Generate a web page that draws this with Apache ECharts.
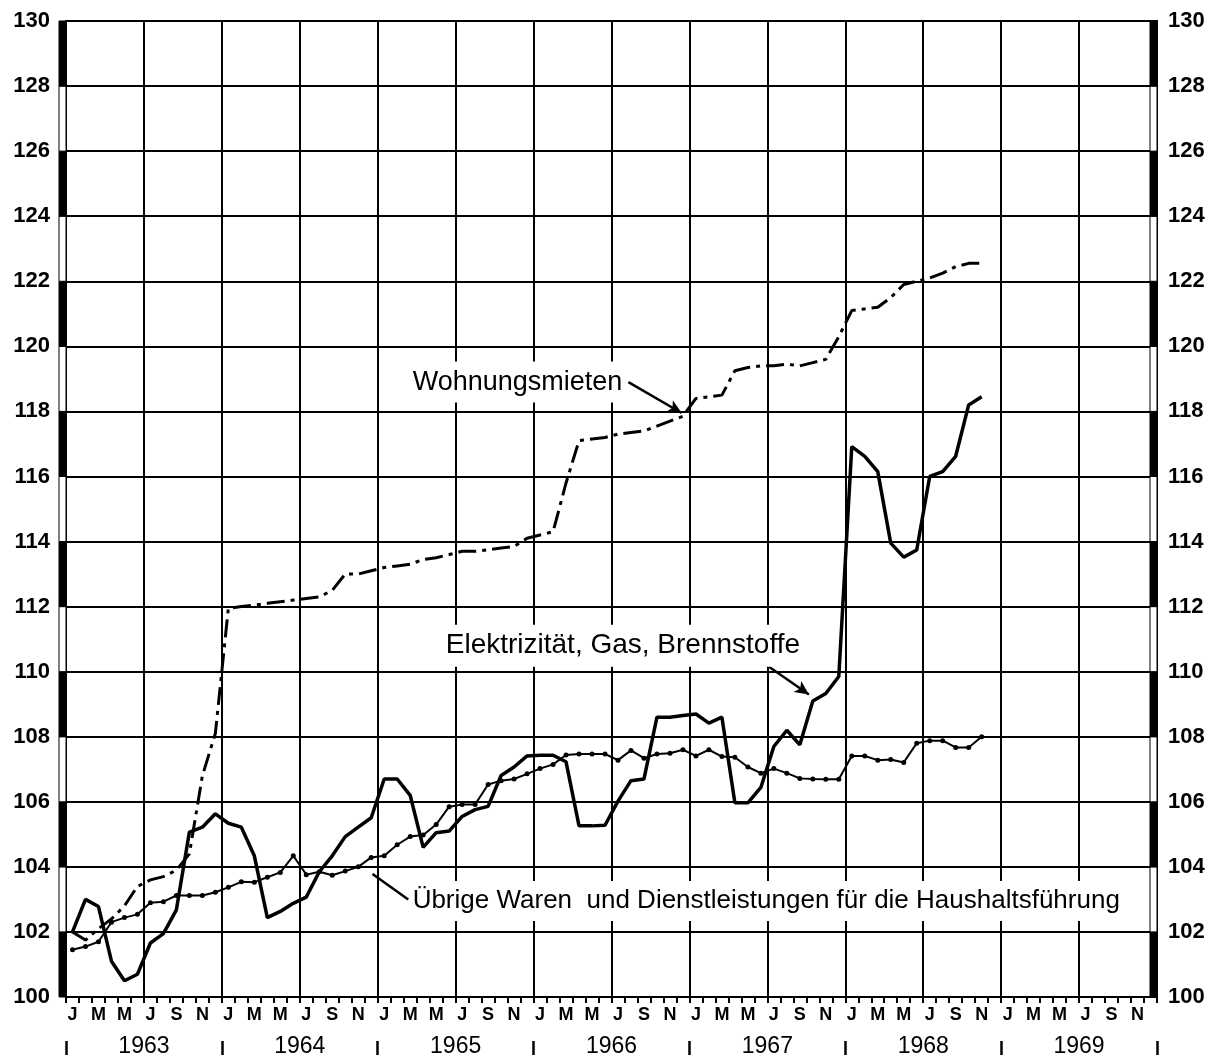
<!DOCTYPE html>
<html>
<head>
<meta charset="utf-8">
<script src="https://cdn.jsdelivr.net/npm/echarts@6/dist/echarts.min.js"></script>
<style>
html,body{margin:0;padding:0;background:#fff;}
#c{width:1216px;height:1058px;}
</style>
</head>
<body>
<div id="c"></div>
<script>
// ---- data (monthly index values, Jan 1963 = index 0) ----
const years = ['1963','1964','1965','1966','1967','1968','1969'];
const monthLetters = ['J','F','M','A','M','J','J','A','S','O','N','D'];

const wohnungsmieten = [
  102.0,101.75,102.1,102.4,102.8,103.4,103.6,103.7,103.9,104.4,106.8,108.1,
  111.95,112.0,112.05,112.1,112.15,112.2,112.25,112.3,112.5,113.0,113.0,113.1,
  113.2,113.25,113.3,113.45,113.5,113.6,113.7,113.7,113.75,113.8,113.85,114.1,
  114.2,114.3,115.8,117.1,117.15,117.2,117.3,117.35,117.4,117.55,117.7,117.85,
  118.4,118.45,118.5,119.25,119.35,119.4,119.4,119.45,119.4,119.5,119.6,120.3,
  121.1,121.15,121.2,121.5,121.9,122.0,122.1,122.25,122.45,122.55,122.55
];
const elektrizitaet = [
  102.0,103.0,102.78,101.1,100.5,100.7,101.66,101.95,102.68,105.07,105.22,105.63,
  105.34,105.22,104.34,102.44,102.63,102.88,103.07,103.85,104.34,104.93,105.22,105.51,
  106.7,106.7,106.2,104.6,105.05,105.1,105.55,105.76,105.86,106.81,107.07,107.41,
  107.43,107.43,107.23,105.26,105.26,105.28,106.02,106.65,106.7,108.6,108.6,108.65,
  108.7,108.42,108.6,105.97,105.97,106.44,107.7,108.2,107.75,109.1,109.33,109.85,
  116.92,116.62,116.15,113.95,113.52,113.74,116.0,116.15,116.62,118.2,118.45
];
const uebrige = [
  101.45,101.55,101.7,102.3,102.44,102.54,102.9,102.93,103.12,103.12,103.12,103.22,
  103.37,103.54,103.53,103.68,103.83,104.34,103.76,103.85,103.74,103.87,104.0,104.29,
  104.34,104.68,104.93,104.98,105.3,105.85,105.92,105.92,106.53,106.65,106.7,106.86,
  107.02,107.15,107.44,107.47,107.47,107.47,107.28,107.58,107.34,107.47,107.49,107.6,
  107.41,107.6,107.39,107.37,107.07,106.88,107.02,106.88,106.72,106.7,106.69,106.69,
  107.41,107.41,107.28,107.3,107.21,107.8,107.88,107.88,107.67,107.67,108.0
];

// ---- build ----
const monthKeys = [];
years.forEach(y => monthLetters.forEach((m, i) => monthKeys.push(y + '-' + i)));
const nMonths = monthKeys.length;
const toXY = arr => arr.map((v, i) => [i + 0.5, v]);

const edgeSegments = [];
for (let k = 0; k < 15; k++) edgeSegments.push([100 + 2 * k, 102 + 2 * k, k % 2 === 0 ? 1 : 0]);

const FONT = '"Liberation Sans", Arial, sans-serif';
const NARROW = '"Liberation Sans Narrow", "Liberation Sans", Arial, sans-serif';

const chart = echarts.init(document.getElementById('c'), null, {renderer: 'canvas'});
chart.setOption({
  animation: false,
  backgroundColor: '#fff',
  grid: {left: 66, right: 59, top: 21, bottom: 59, show: true, borderColor: '#000', borderWidth: 2, backgroundColor: 'transparent'},
  xAxis: [
    {
      type: 'category', data: monthKeys, position: 'bottom', boundaryGap: true,
      axisLine: {show: true, lineStyle: {color: '#000', width: 2}},
      axisTick: {show: true, interval: 0, length: 6, lineStyle: {color: '#000', width: 2}},
      axisLabel: {
        interval: (i) => i % 2 === 0,
        formatter: (v) => monthLetters[+v.split('-')[1]],
        color: '#000', fontSize: 18, fontWeight: 'bold', fontFamily: NARROW, margin: 9
      },
      splitLine: {show: false}
    },
    {
      type: 'value', min: 0, max: nMonths, interval: 6, position: 'top',
      axisLine: {show: false}, axisTick: {show: false}, axisLabel: {show: false},
      splitLine: {show: true, lineStyle: {color: '#000', width: 2}}
    },
    {
      type: 'category', data: years, position: 'bottom', offset: 58, boundaryGap: true,
      axisLine: {show: false},
      axisTick: {show: true, inside: true, length: 14, lineStyle: {color: '#000', width: 2.5}},
      axisLabel: {inside: true, margin: -3, color: '#000', fontSize: 23, fontFamily: FONT},
      splitLine: {show: false}
    }
  ],
  yAxis: [
    {
      type: 'value', min: 100, max: 130, interval: 2, position: 'left',
      axisLine: {show: false}, axisTick: {show: false},
      axisLabel: {color: '#000', fontSize: 22, fontWeight: 'bold', fontFamily: FONT, margin: 16},
      splitLine: {show: true, lineStyle: {color: '#000', width: 2}}
    },
    {
      type: 'value', min: 100, max: 130, interval: 2, position: 'right',
      axisLine: {show: false}, axisTick: {show: false},
      axisLabel: {color: '#000', fontSize: 22, fontWeight: 'bold', fontFamily: FONT, margin: 11},
      splitLine: {show: false}
    }
  ],
  series: [
    {
      name: 'Wohnungsmieten', type: 'line', xAxisIndex: 1, yAxisIndex: 0,
      data: toXY(wohnungsmieten), showSymbol: false, symbol: 'none', z: 4,
      lineStyle: {color: '#000', width: 3, type: [18, 6, 4, 6]},
      markLine: {
        silent: true, symbol: ['none', 'arrow'], symbolSize: [10, 14],
        lineStyle: {color: '#000', width: 2.5, type: 'solid'}, label: {show: false},
        data: [[{coord: [43.3, 118.9]}, {coord: [47.4, 117.95]}]]
      },
      markPoint: {
        silent: true, symbol: 'rect', symbolSize: 1, itemStyle: {color: 'rgba(0,0,0,0)'},
        label: {show: true, position: 'right', distance: 0, color: '#000', fontSize: 27, fontFamily: FONT,
          backgroundColor: '#fff', padding: [7, 4, 7, 0], formatter: (p) => p.name},
        data: [{name: 'Wohnungsmieten', coord: [26.65, 118.9]}]
      }
    },
    {
      name: 'Elektrizität, Gas, Brennstoffe', type: 'line', xAxisIndex: 1, yAxisIndex: 0,
      data: toXY(elektrizitaet), showSymbol: false, symbol: 'none', z: 4,
      lineStyle: {color: '#000', width: 3.5},
      markLine: {
        silent: true, symbol: ['none', 'arrow'], symbolSize: [10, 14],
        lineStyle: {color: '#000', width: 2.5, type: 'solid'}, label: {show: false},
        data: [[{coord: [53.4, 110.35]}, {coord: [57.2, 109.3]}]]
      },
      markPoint: {
        silent: true, symbol: 'rect', symbolSize: 1, itemStyle: {color: 'rgba(0,0,0,0)'},
        label: {show: true, position: 'right', distance: 0, color: '#000', fontSize: 28, fontFamily: FONT,
          backgroundColor: '#fff', padding: [7, 4, 7, 0], formatter: (p) => p.name},
        data: [{name: 'Elektrizität, Gas, Brennstoffe', coord: [29.2, 110.8]}]
      }
    },
    {
      name: 'Übrige Waren und Dienstleistungen für die Haushaltsführung', type: 'line', xAxisIndex: 1, yAxisIndex: 0,
      data: toXY(uebrige), showSymbol: true, symbol: 'circle', symbolSize: 5, z: 4,
      itemStyle: {color: '#000'},
      lineStyle: {color: '#000', width: 2},
      markLine: {
        silent: true, symbol: ['none', 'none'],
        lineStyle: {color: '#000', width: 2.5, type: 'solid'}, label: {show: false},
        data: [[{coord: [26.35, 103.0]}, {coord: [23.6, 103.78]}]]
      },
      markPoint: {
        silent: true, symbol: 'rect', symbolSize: 1, itemStyle: {color: 'rgba(0,0,0,0)'},
        label: {show: true, position: 'right', distance: 0, color: '#000', fontSize: 26, fontFamily: FONT,
          backgroundColor: '#fff', padding: [7, 4, 7, 0], formatter: (p) => p.name},
        data: [{name: 'Übrige Waren  und Dienstleistungen für die Haushaltsführung', coord: [26.65, 102.95]}]
      }
    },
    {
      name: 'edge', type: 'custom', xAxisIndex: 1, yAxisIndex: 0, clip: false, silent: true, z: 6,
      data: edgeSegments,
      renderItem: (params, api) => {
        const v0 = api.value(0), v1 = api.value(1), black = api.value(2);
        const pb = api.coord([0, v0]), pt = api.coord([0, v1]), pr = api.coord([nMonths, v0]);
        const h = pb[1] - pt[1];
        const style = {fill: black ? '#000' : '#fff', stroke: '#000', lineWidth: 1};
        return {type: 'group', children: [
          {type: 'rect', shape: {x: pb[0] - 7, y: pt[1], width: 7, height: h}, style: style},
          {type: 'rect', shape: {x: pr[0] - 7, y: pt[1], width: 7, height: h}, style: style}
        ]};
      }
    }
  ]
});
</script>
</body>
</html>
